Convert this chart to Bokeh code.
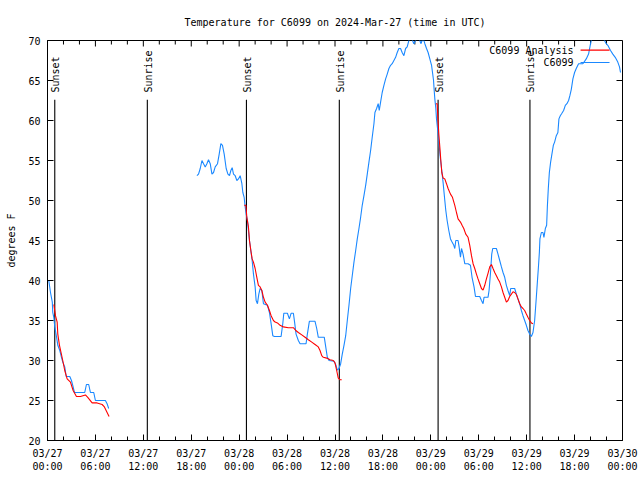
import math
from bokeh.plotting import figure
from bokeh.models import FixedTicker, Range1d, Label, Arrow
from bokeh.embed import file_html
from bokeh.resources import INLINE
from bokeh.core.properties import value

# ---- data (hours since 03/27 00:00 UTC, degrees F) ----
obs_hours_1 = [0.1, 0.16, 0.375, 0.6, 0.66, 0.79, 0.91, 1.125, 1.29, 1.54, 1.75, 1.91, 2.16, 2.34, 2.79,
               3.0, 3.21, 3.375, 4.66, 4.875, 5.16, 5.375, 5.79, 6.0, 7.25, 7.46, 7.66]
obs_temp_1 = [40, 40, 38.5, 37.3, 36, 35.4, 34.2, 33, 31.9, 31.25, 30.4, 29.8, 29.2, 28, 28,
              27.5, 26.7, 26, 26, 27, 27, 26, 26, 25, 25, 24.6, 24]

obs_hours_2 = [18.71, 18.91, 19.125, 19.34, 19.54, 19.75, 19.96, 20.16, 20.375, 20.59, 20.79, 21.0, 21.29,
               21.5, 21.71, 21.91, 22.125, 22.375, 22.59, 22.79, 22.96, 23.125, 23.29, 23.5, 23.71, 23.91,
               24.125, 24.34, 24.46, 24.625, 24.75, 24.875, 25.04, 25.16, 25.29, 25.46, 25.625, 25.79, 26.0,
               26.125, 26.29, 26.46, 26.625, 26.84, 27.04, 27.54, 27.79, 28.0, 28.21, 28.41, 29.25, 29.46,
               29.59, 30.04, 30.29, 30.5, 30.79, 30.94, 31.125, 31.41, 31.625, 32.375, 32.54, 32.79, 33.5,
               33.71, 33.91, 34.66, 34.84, 35.04, 35.25, 35.875, 36.125, 36.29, 36.5, 36.71, 36.91, 37.125,
               37.34, 37.54, 37.75, 37.96, 38.16, 38.375, 38.59, 38.79, 39.0, 39.21, 39.41, 39.625, 39.84,
               40.04, 40.25, 40.46, 40.66, 40.875, 41.0, 41.21, 41.41, 41.54, 41.71, 41.91, 42.125, 42.34,
               42.54, 42.75, 42.96, 43.16, 43.375, 43.59, 43.79, 44.0, 44.21, 44.41, 44.625, 44.84, 45.04,
               45.25, 45.46, 45.71, 45.875, 46.09, 46.34, 46.625, 46.75, 46.91, 47.04, 47.25, 47.46, 47.66,
               47.875, 48.09, 48.21, 48.34, 48.41, 48.5, 48.625, 48.71, 48.84, 49.0, 49.16, 49.34, 49.54,
               49.75, 49.875, 50.04, 50.25, 50.46, 50.66, 50.875, 51.0, 51.125, 51.41, 51.54, 51.71, 51.84,
               52.04, 52.25, 52.66, 52.96, 53.16, 53.41, 53.59, 54.125, 54.34, 54.54, 54.66, 55.16, 55.29,
               55.46, 55.625, 55.75, 56.21, 56.41, 56.625, 56.84, 57.04, 57.25, 57.46, 57.66, 57.875, 58.0,
               58.5, 58.71, 58.91, 59.125, 59.34, 59.54, 59.75, 59.96, 60.16, 60.375, 60.59, 60.79, 61.0,
               61.21, 61.34, 61.46, 61.59, 61.66, 61.84, 62.04, 62.16, 62.34, 62.5, 62.59, 62.71, 62.84,
               63.0, 63.16, 63.34, 63.5, 63.71, 63.91, 64.04, 64.21, 64.41, 64.625, 64.84, 65.04, 65.25,
               65.41, 65.59, 65.79, 66.0, 66.21, 66.5, 67.04, 67.46, 67.75, 68.0, 68.16, 69.125, 69.75,
               69.96, 70.16, 70.5, 70.79, 71.09, 71.41, 71.625, 71.75]
obs_temp_2 = [53.1, 53.3, 54, 55, 54.6, 54.2, 54.6, 55.1, 54.6, 53.3, 53.5, 54.2, 54.6,
              55.8, 57.1, 56.9, 55.8, 54, 53.3, 53.1, 53.75, 54.1, 53.3, 53.1, 52.5, 52.7,
              53.1, 52.1, 51.0, 50.4, 49.2, 48.3, 47.5, 46.25, 45, 43.75, 42.5, 40.8, 39.2,
              37.5, 37.1, 38.3, 39.0, 38.75, 37.1, 36.9, 36, 34.6, 33.1, 33.0, 33, 34.6,
              35.9, 35.9, 35.2, 35.9, 35.9, 34.8, 33.3, 32.5, 32.1, 32.1, 33.3, 34.9, 34.9,
              34.0, 32.9, 32.9, 31.7, 30.4, 30, 29.9, 29.4, 28.8, 29.0, 29.6, 30.8, 31.9,
              33.1, 35, 36.9, 39, 40.6, 42.3, 43.75, 45.2, 46.5, 47.9, 49.4, 50.6, 51.9,
              53.3, 54.8, 56.25, 57.9, 59.6, 61.0, 61.5, 62.1, 61.25, 62.3, 63.5, 64.4, 65.2,
              65.8, 66.5, 66.9, 67.1, 67.5, 67.9, 68.5, 69.0, 69.0, 68.5, 68.1, 69.0, 69.2,
              70, 70.5, 70, 69.6, 70, 70.5, 70, 69.6, 70, 70.3, 69.6, 69, 68.5,
              67.7, 66.9, 66, 65, 63.9, 62.7, 61.5, 60.2, 59, 57.3, 55.6, 54, 52.2,
              50, 48.75, 47.5, 46.25, 45.2, 44.8, 44.4, 44, 45, 45, 44.2, 42.9, 44,
              43.3, 42.1, 42.1, 41.9, 40.4, 39.2, 38, 38, 37.5, 37.1, 37.9, 37.9, 38.75,
              40.8, 43.3, 44, 44, 43.3, 42.5, 41.7, 41.0, 40.4, 39.4, 38.75, 38.1, 39,
              39, 38.3, 37.7, 37.1, 36.25, 35.6, 35, 34.4, 33.75, 33.3, 33, 33.5, 35,
              37.9, 39.8, 41.5, 43.5, 45.2, 46.0, 46.0, 45.4, 46.5, 46.9, 49.2, 51.5, 53.5,
              54.8, 55.8, 56.9, 57.3, 58.1, 58.5, 60.2, 60.6, 60.9, 61.25, 61.9, 62.1, 62.5,
              63.1, 63.9, 65.2, 66, 66.5, 67.1, 67.1, 67.7, 68.3, 69.6, 70.3, 71, 70,
              69.6, 69.4, 68.75, 68.3, 67.9, 67.3, 66.7, 66.0]

ana_hours_1 = [0.79, 1.0, 1.21, 1.29, 1.5, 1.75, 1.91, 2.16, 2.46, 2.875, 3.21, 3.625, 4.125, 4.75, 5.04,
               5.59, 6.21, 6.84, 7.125, 7.71]
ana_temp_1 = [37, 35.6, 34.8, 33.3, 31.9, 30.75, 30, 28.75, 27.7, 27.3, 26.25, 25.5, 25.5, 25.7, 25.4,
              24.7, 24.7, 24.5, 24.2, 23.0]

ana_hours_2 = [24.625, 24.84, 24.96, 25.16, 25.29, 25.46, 25.625, 25.79, 26.0, 26.21, 26.41, 26.625, 26.84,
               27.04, 27.25, 27.54, 27.79, 28.0, 28.29, 28.5, 28.79, 29.125, 29.54, 30.16, 30.79, 31.09,
               31.41, 31.84, 32.25, 32.66, 33.09, 33.5, 33.91, 34.125, 34.34, 34.54, 34.96, 35.375, 35.79,
               36.0, 36.21, 36.41, 36.625, 36.84]
ana_temp_2 = [49.4, 49.4, 47.9, 46.7, 45, 43.75, 42.7, 42.3, 41.5, 40.4, 39.4, 39.2, 38.75,
              37.9, 37.3, 36.9, 36.25, 35.6, 35, 34.8, 34.7, 34.4, 34.2, 34.1, 34.1, 33.75,
              33.5, 33.2, 32.9, 32.6, 32.3, 32, 31.7, 31.25, 30.6, 30.4, 30.3, 30.1, 30,
              29.7, 28.75, 27.8, 27.6, 27.6]

ana_hours_3 = [48.625, 48.79, 48.91, 49.0, 49.125, 49.25, 49.375, 49.54, 49.75, 49.96, 50.16, 50.46, 50.71,
               51.0, 51.21, 51.41, 51.71, 51.91, 52.125, 52.375, 52.66, 52.875, 53.09, 53.29, 53.5, 53.71,
               53.91, 54.125, 54.34, 54.54, 54.75, 54.96, 55.16, 55.375, 55.59, 55.79, 56.0, 56.21, 56.41,
               56.625, 56.84, 57.04, 57.25, 57.46, 57.66, 57.875, 58.09, 58.29, 58.5, 58.71, 58.91, 59.125,
               59.34, 59.54, 59.75, 59.96, 60.16, 60.375, 60.59, 60.79]
ana_temp_3 = [62.1, 62.1, 59.8, 58.3, 56.7, 55, 53.5, 52.8, 52.7, 52.1, 51.5, 50.8, 50.4,
              49.4, 48.5, 47.7, 47.3, 46.9, 46.5, 45.8, 45.4, 44.4, 43.1, 42.1, 41.5, 40.8,
              40.2, 39.6, 39, 38.8, 39.4, 40.2, 40.9, 41.7, 42, 41.5, 41.0, 40.6, 40.2,
              39.8, 39.2, 38.5, 37.9, 37.3, 37.5, 38, 38.3, 38.6, 38.5, 38.25, 37.7, 37.1,
              36.7, 36.5, 36.25, 35.8, 35.4, 35, 34.7, 34.6]

event_hours = [0.91, 12.5, 24.91, 36.54, 48.91, 60.41]
event_names = ["Sunset", "Sunrise", "Sunset", "Sunrise", "Sunset", "Sunrise"]

x_ticks = [0, 6, 12, 18, 24, 30, 36, 42, 48, 54, 60, 66, 72]
x_tick_labels = ["03/27\n00:00", "03/27\n06:00", "03/27\n12:00", "03/27\n18:00",
                 "03/28\n00:00", "03/28\n06:00", "03/28\n12:00", "03/28\n18:00",
                 "03/29\n00:00", "03/29\n06:00", "03/29\n12:00", "03/29\n18:00",
                 "03/30\n00:00"]
x_minor = [h for h in range(0, 73, 2)]
y_ticks = [20, 25, 30, 35, 40, 45, 50, 55, 60, 65, 70]

FONT = "DejaVu Sans Mono"
FS = "10px"
BLUE = "#1a88ff"
RED = "#ff0000"

W, H = 640, 480
BL, BR, BT, BB = 47, 18, 40, 40
X0, X1, Y0, Y1 = 0, 72, 20, 70

p = figure(width=W, height=H, output_backend="svg", toolbar_location=None,
           x_range=Range1d(X0, X1), y_range=Range1d(Y0, Y1),
           min_border_left=BL, min_border_right=BR, min_border_top=BT, min_border_bottom=BB,
           title="Temperature for C6099 on 2024-Mar-27 (time in UTC)")
p.xgrid.visible = False
p.ygrid.visible = False
p.outline_line_color = "black"
p.outline_line_width = 1
p.background_fill_color = "white"
p.border_fill_color = "white"

p.title.text_font = FONT
p.title.text_font_size = FS
p.title.text_font_style = "normal"
p.title.text_color = "black"
p.title.align = "center"
p.title.standoff = 25

xa = p.xaxis[0]
xa.ticker = FixedTicker(ticks=x_ticks, minor_ticks=x_minor)
xa.major_label_overrides = {t: lab for t, lab in zip(x_ticks, x_tick_labels)}
ya = p.yaxis[0]
ya.ticker = FixedTicker(ticks=y_ticks)
ya.axis_label = "degrees F"

MAJ, MIN = 6, 4
for ax in (xa, ya):
    ax.major_label_text_font = FONT
    ax.major_label_text_font_size = FS
    ax.major_label_text_color = "black"
    ax.axis_label_text_font = FONT
    ax.axis_label_text_font_size = FS
    ax.axis_label_text_font_style = "normal"
    ax.axis_label_text_color = "black"
    ax.major_tick_out = 0
    ax.minor_tick_out = 0
    ax.major_tick_in = MAJ
    ax.minor_tick_in = MIN
    ax.axis_line_color = "black"
    ax.major_tick_line_color = "black"
    ax.minor_tick_line_color = "black"
xa.major_label_standoff = 7
ya.major_label_standoff = 7
ya.axis_label_standoff = 8

# mirrored inward ticks on the top and right edges of the frame
px_per_x = (W - BL - BR) / (X1 - X0)
px_per_y = (H - BT - BB) / (Y1 - Y0)
top_x = x_ticks + [m for m in x_minor if m not in x_ticks]
top_len = [MAJ] * len(x_ticks) + [MIN] * (len(top_x) - len(x_ticks))
p.segment(x0=top_x, y0=[Y1] * len(top_x), x1=top_x, y1=[Y1 - L / px_per_y for L in top_len],
          line_color="black", line_width=1)
p.segment(x0=[X1] * len(y_ticks), y0=y_ticks, x1=[X1 - MAJ / px_per_x] * len(y_ticks), y1=y_ticks,
          line_color="black", line_width=1)

# event lines
p.segment(x0=event_hours, y0=[Y0] * len(event_hours), x1=event_hours, y1=[62.6] * len(event_hours),
          line_color="black", line_width=1.1)
p.text(x=event_hours, y=[63.5] * len(event_hours), text=event_names, angle=math.pi / 2,
       text_align="left", text_baseline="middle", x_offset=1,
       text_font=value(FONT), text_font_size=FS, text_color="black")

# series
for hx, ty in ((obs_hours_1, obs_temp_1), (obs_hours_2, obs_temp_2)):
    p.line(hx, ty, line_color=BLUE, line_width=1.1)
for hx, ty in ((ana_hours_1, ana_temp_1), (ana_hours_2, ana_temp_2), (ana_hours_3, ana_temp_3)):
    p.line(hx, ty, line_color=RED, line_width=1.1)

# legend (gnuplot style: label, then sample)
legend_labels = ["C6099 Analysis", "C6099"]
legend_colors = [RED, BLUE]
legend_y = [68.8, 67.25]
for lab, col, ly in zip(legend_labels, legend_colors, legend_y):
    p.add_layout(Label(x=65.875, y=ly, text=lab, text_align="right", text_baseline="middle",
                       text_font=FONT, text_font_size=FS, text_color="black"))
    p.add_layout(Arrow(start=None, end=None, x_start=66.75, y_start=ly, x_end=70.375, y_end=ly,
                       line_color=col, line_width=1.1))

open("out.html", "w").write(file_html(p, INLINE))
